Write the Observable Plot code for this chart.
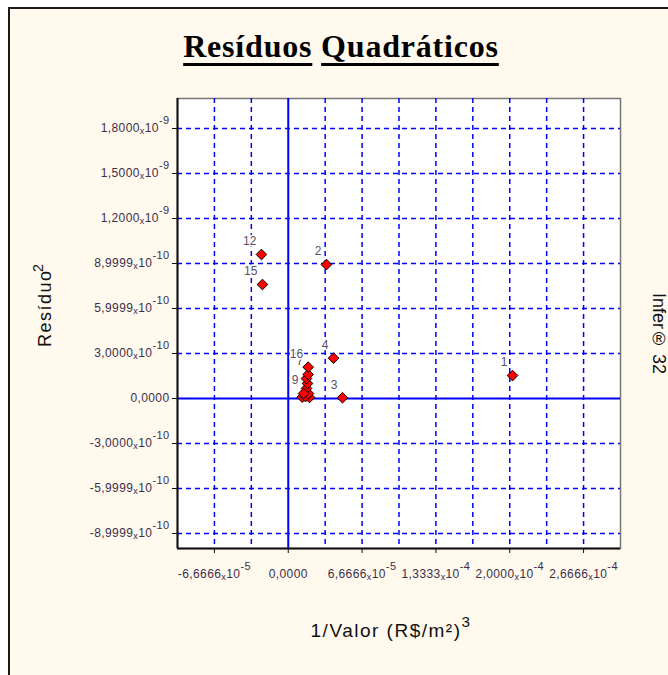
<!DOCTYPE html>
<html><head><meta charset="utf-8">
<script src="https://cdn.jsdelivr.net/npm/d3@7"></script>
<script src="https://cdn.jsdelivr.net/npm/@observablehq/plot@0.6"></script>
<style>
html,body{margin:0;padding:0;width:668px;height:675px;overflow:hidden;background:#fff;}
#panel{position:absolute;left:8px;top:7px;width:720px;height:720px;background:#fff9ee;border-left:2px solid #1a1a1a;border-top:2px solid #1a1a1a;}
#title{position:absolute;left:0;width:682px;top:28px;text-align:center;font:bold 32px "Liberation Serif","Times New Roman",serif;letter-spacing:0.8px;color:#000;}
#title span{text-decoration:underline;text-decoration-thickness:3px;text-underline-offset:6px;}
#chart{position:absolute;left:0;top:0;}
#ylab{position:absolute;left:30px;top:260px;writing-mode:vertical-rl;transform:rotate(180deg);font:18px "Liberation Sans",Arial,sans-serif;letter-spacing:1.5px;color:#111;}
#xlab{position:absolute;left:0;width:782px;top:616px;text-align:center;font:19px "Liberation Sans",Arial,sans-serif;letter-spacing:1.5px;color:#111;}
#side{position:absolute;left:648px;top:293px;writing-mode:vertical-rl;font:18px "Liberation Sans",Arial,sans-serif;color:#111;}
sup{font-size:0.8em;position:relative;top:-0.2em;}
</style></head>
<body>
<div id="panel"></div>
<div id="title"><span>Resíduos</span> <span>Quadráticos</span></div>
<div id="ylab">Resíduo<sup>2</sup></div>
<div id="xlab">1/Valor (R$/m²)<sup>3</sup></div>
<div id="side">Infer® 32</div>
<div id="chart"></div>
<script>
const xDomain = [-1.0e-4, 3.0e-4];
const yDomain = [-1.0e-9, 2.0e-9];
const xTicks = [-6.6666e-5, 0, 6.6666e-5, 1.3333e-4, 2.0e-4, 2.6666e-4];
const xTickMantissa = ["-6,6666", "0,0000", "6,6666", "1,3333", "2,0000", "2,6666"];
const xTickExp = ["-5", "", "-5", "-4", "-4", "-4"];
const xGrid = [-6.6666e-5, -3.3333e-5, 3.3333e-5, 6.6666e-5, 1.0e-4, 1.3333e-4, 1.6666e-4, 2.0e-4, 2.3333e-4, 2.6666e-4];
const yTicks = [-9e-10, -6e-10, -3e-10, 0, 3e-10, 6e-10, 9e-10, 1.2e-9, 1.5e-9, 1.8e-9];
const yTickMantissa = ["-8,9999", "-5,9999", "-3,0000", "0,0000", "3,0000", "5,9999", "8,9999", "1,2000", "1,5000", "1,8000"];
const yTickExp = ["-10", "-10", "-10", "", "-10", "-10", "-10", "-9", "-9", "-9"];
const yGrid = [-9e-10, -6e-10, -3e-10, 3e-10, 6e-10, 9e-10, 1.2e-9, 1.5e-9, 1.8e-9];

const pointIds = ["1", "2", "3", "4", "12", "15", "10", "11", "13", "14", "8", "6", "5", "9", "7", "16"];
// labels visible in the reference (others are hidden behind the cluster)
const pointLabels = ["1", "2", "3", "4", "12", "15", "", "", "", "", "", "", "", "9", "7", "16"];
const xValues = [2.025e-4, 3.45e-5, 4.9e-5, 4.09e-5, -2.42e-5, -2.33e-5, 1.92e-5, 1.26e-5, 1.56e-5, 1.83e-5, 1.65e-5, 1.74e-5, 1.65e-5, 1.38e-5, 1.80e-5, 1.80e-5];
const yValues = [1.53e-10, 8.93e-10, 5e-12, 2.69e-10, 9.6e-10, 7.6e-10, 7e-12, 9e-12, 1.3e-11, 3.3e-11, 6.7e-11, 1.0e-10, 1.33e-10, 3.3e-11, 1.6e-10, 2.09e-10];

const pts = pointIds.map((id, i) => ({id, label: pointLabels[i], x: xValues[i], y: yValues[i]}));
const blue = "#0000ff";
const labelColor = "#3c2f4a";

const svg = Plot.plot({
  width: 668, height: 600,
  marginLeft: 177, marginRight: 48, marginTop: 98, marginBottom: 52,
  style: {background: "transparent", fontFamily: "'Liberation Sans', Arial, sans-serif"},
  x: {domain: xDomain},
  y: {domain: yDomain},
  marks: [
    Plot.frame({fill: "white", stroke: "#777", strokeWidth: 1.5}),
    Plot.ruleX(xGrid, {stroke: blue, strokeWidth: 1.5, strokeDasharray: "5,4"}),
    Plot.ruleY(yGrid, {stroke: blue, strokeWidth: 1.5, strokeDasharray: "5,4"}),
    Plot.ruleX([0], {stroke: blue, strokeWidth: 2}),
    Plot.ruleY([0], {stroke: blue, strokeWidth: 2}),
    Plot.ruleX([xDomain[0]], {stroke: "#111", strokeWidth: 2}),
    Plot.ruleY([yDomain[0]], {stroke: "#111", strokeWidth: 2}),
    Plot.axisX(xTicks, {tickFormat: d => String(xTicks.indexOf(d)), tickSize: 5, tickPadding: 16, fontSize: 12, stroke: "#111", fill: labelColor, label: null}),
    Plot.axisY(yTicks, {tickFormat: d => String(yTicks.indexOf(d)), tickSize: 5, tickPadding: 3, fontSize: 12, stroke: "#111", fill: labelColor, label: null}),
    Plot.text(pts, {x: "x", y: "y", text: "label", textAnchor: "end", dx: -5, dy: -13, fontSize: 12, fill: "#5a5064", stroke: "white", strokeWidth: 3}),
    Plot.dot(pts, {x: "x", y: "y", symbol: "diamond2", r: 4.8, fill: "#ff0000", stroke: "#000", strokeWidth: 1})
  ]
});

function fancy(sel, mant, exp) {
  d3.select(svg).selectAll(`g[aria-label="${sel}"] text`).each(function() {
    const t = d3.select(this);
    const i = +t.text();
    t.text(null).attr("letter-spacing", "0.4px");
    t.append("tspan").text(mant[i]);
    if (exp[i]) {
      t.append("tspan").attr("font-size", 9).attr("dy", 2).text("x");
      t.append("tspan").attr("dy", -2).text("10");
      t.append("tspan").attr("font-size", 11).attr("dy", -8).text(exp[i]);
    }
  });
}
fancy("x-axis tick label", xTickMantissa, xTickExp);
fancy("y-axis tick label", yTickMantissa, yTickExp);

document.getElementById("chart").appendChild(svg);
</script>
</body></html>
